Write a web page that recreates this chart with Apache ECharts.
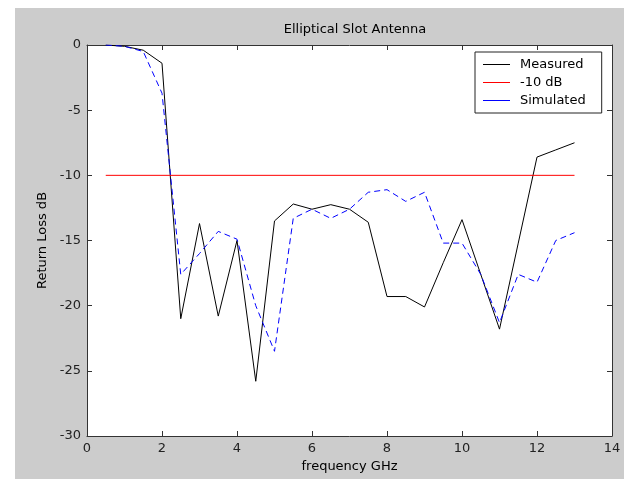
<!DOCTYPE html>
<html>
<head>
<meta charset="utf-8">
<title>Elliptical Slot Antenna</title>
<style>
  body { margin: 0; background: #fff; }
  #back { position: absolute; left: 15px; top: 8px; width: 609px; height: 471px; background: #cccccc; }
  #chart { position: absolute; left: 0; top: 0; width: 624px; height: 479px; }
</style>
</head>
<body>
<div id="back"></div>
<div id="chart"></div>
<script src="https://cdn.jsdelivr.net/npm/echarts@6/dist/echarts.min.js"></script>
<script>
// frequency (GHz) points
const freq = [0.5, 1, 1.5, 2, 2.5, 3, 3.5, 4, 4.5, 5, 5.5, 6, 6.5, 7, 7.5, 8, 8.5, 9, 9.5, 10, 10.5, 11, 11.5, 12, 12.5, 13];
// return loss, dB
const measured = [0, -0.1, -0.4, -1.4, -21, -13.7, -20.8, -15, -25.8, -13.5, -12.2, -12.6, -12.25, -12.6, -13.6, -19.3, -19.3, -20.1, -16.7, -13.4, -17.6, -21.8, -15.2, -8.6, -8.05, -7.5];
const simulated = [0, -0.1, -0.5, -3.7, -17.6, -16, -14.3, -14.9, -20, -23.5, -13.3, -12.6, -13.3, -12.6, -11.3, -11.1, -12.0, -11.3, -15.2, -15.2, -17.6, -21.3, -17.6, -18.2, -15.0, -14.4];
const limitX = [0.5, 13];
const limitY = [-10, -10];
const xTicks = [0, 2, 4, 6, 8, 10, 12, 14];
const yTicks = [-30, -25, -20, -15, -10, -5, 0];

const pairs = (xs, ys) => xs.map((x, i) => [x, ys[i]]);
const font = 'DejaVu Sans, Verdana, sans-serif';
const axisCol = '#333';

const chart = echarts.init(document.getElementById('chart'));

const baseX = {
    type: 'value',
    min: xTicks[0],
    max: xTicks[xTicks.length - 1],
    interval: 2,
    axisLine: { show: true, onZero: false, lineStyle: { color: axisCol } },
    axisTick: { show: true, inside: true, length: 5, lineStyle: { color: axisCol } },
    splitLine: { show: false }
};
const baseY = {
    type: 'value',
    min: yTicks[0],
    max: yTicks[yTicks.length - 1],
    interval: 5,
    axisLine: { show: true, onZero: false, lineStyle: { color: axisCol } },
    axisTick: { show: true, inside: true, length: 5, lineStyle: { color: axisCol } },
    splitLine: { show: false }
};

chart.setOption({
    animation: false,
    title: {
        text: 'Elliptical Slot Antenna',
        left: 350,
        top: 18,
        textAlign: 'center',
        textStyle: { fontFamily: font, fontSize: 13, fontWeight: 'normal', color: '#000' }
    },
    grid: {
        left: 87, top: 45, right: 12, bottom: 43,
        show: true, backgroundColor: '#fff', borderWidth: 0
    },
    legend: {
        orient: 'vertical',
        left: 475, top: 52,
        padding: [6, 16, 6, 8],
        itemGap: 5,
        itemWidth: 27,
        itemHeight: 1,
        icon: 'rect',
        backgroundColor: '#fff',
        borderColor: '#222',
        borderWidth: 1,
        borderRadius: 0,
        textStyle: { fontFamily: font, fontSize: 13, color: '#000', padding: [0, 0, 0, 5] },
        data: ['Measured', '-10 dB', 'Simulated']
    },
    xAxis: [
        Object.assign({}, baseX, {
            position: 'bottom',
            name: 'frequency GHz',
            nameLocation: 'middle',
            nameGap: 24,
            nameTextStyle: { fontFamily: font, fontSize: 13, color: '#000' },
            axisLabel: { fontFamily: font, fontSize: 13, color: '#222', margin: 6 }
        }),
        Object.assign({}, baseX, { position: 'top', axisLabel: { show: false } })
    ],
    yAxis: [
        Object.assign({}, baseY, {
            position: 'left',
            name: 'Return Loss dB',
            nameLocation: 'middle',
            nameGap: 37,
            nameTextStyle: { fontFamily: font, fontSize: 13, color: '#000' },
            axisLabel: { fontFamily: font, fontSize: 13, color: '#222', margin: 6 }
        }),
        Object.assign({}, baseY, { position: 'right', axisLabel: { show: false } })
    ],
    series: [
        {
            name: 'Measured', type: 'line', data: pairs(freq, measured),
            symbol: 'none', itemStyle: { color: '#000' },
            lineStyle: { color: '#000', width: 1 }
        },
        {
            name: '-10 dB', type: 'line', data: pairs(limitX, limitY),
            symbol: 'none', itemStyle: { color: '#ff0000' },
            lineStyle: { color: '#ff0000', width: 1 }
        },
        {
            name: 'Simulated', type: 'line', data: pairs(freq, simulated),
            symbol: 'none', itemStyle: { color: '#0000ff' },
            lineStyle: { color: '#0000ff', width: 1, type: [6, 4] }
        }
    ]
});
</script>
</body>
</html>
